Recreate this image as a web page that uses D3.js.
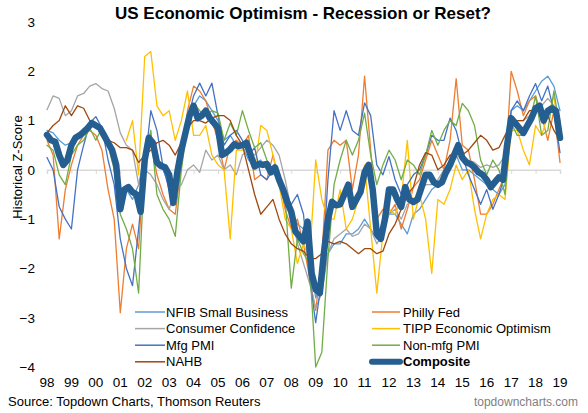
<!DOCTYPE html>
<html>
<head>
<meta charset="utf-8">
<script src="https://cdn.jsdelivr.net/npm/d3@7"></script>
<style>
  body { margin: 0; background: #fff; }
  svg { font-family: Arial, "Liberation Sans", sans-serif; }
</style>
</head>
<body>
<svg width="588" height="413"></svg>
<script>
// x tick labels (years)
var tickYears = d3.range(1998, 2020);
var yTicks = [3, 2, 1, 0, -1, -2, -3, -4];

// thin series, quarterly from Jan 1998
var nfib = [0.8,0.75,0.6,0.5, 0.55,0.65,0.75,0.85, 0.95,0.8,0.45,0.3, -0.5,-0.4,-0.6,-0.3,
  0.3,0.5,0.2,0.0, -0.3,-0.5,0.4,1.0, 1.3,1.5,1.4,1.2, 1.0,0.6,0.7,0.5, 0.5,0.2,0.1,0.2,
  0.0,0.0,-0.2,-0.4, -0.8,-1.1,-1.2,-1.8, -2.6,-2.2,-1.7,-1.5, -1.5,-1.3,-1.3,-1.2,
  -1.0,-1.2,-1.4,-1.1, -0.9,-0.9,-1.1,-1.3, -0.9,-0.8,-0.6,-0.4, -0.3,-0.1,0.1,0.3,
  0.0,0.0,-0.1,-0.2, -0.3,-0.4,-0.5,-0.3, 1.2,1.3,1.2,1.4, 1.6,1.8,1.9,1.7, 1.2];
var phillyFed = [0.6,0.3,-1.4,-0.4, 0.1,0.5,0.7,0.8, 0.7,0.4,-0.4,-1.0, -2.9,-1.6,-1.1,-1.6,
  0.3,0.6,-0.1,-0.5, -0.8,-0.9,0.1,1.2, 1.7,1.6,1.4,1.0, 0.6,0.0,0.5,0.6, 0.5,0.7,-0.2,-0.1,
  -0.2,0.3,-0.2,-0.8, -1.2,-1.0,-1.5,-2.2, -2.85,-1.8,0.4,0.6, 0.5,0.6,-0.4,0.3,
  1.9,0.4,-1.0,-0.8, -0.9,-0.7,-1.2,-0.8, -0.35,-0.2,0.2,0.6, 0.3,0.0,0.6,1.85,
  0.5,0.4,-0.2,-0.9, -0.9,-0.7,-0.4,-0.1, 2.0,1.6,1.1,1.4, 1.5,1.1,0.6,1.2, 0.15];
var consumerConf = [1.22,1.5,1.45,1.1, 1.2,1.5,1.55,1.7, 1.75,1.65,1.6,1.25, 0.75,0.5,0.4,-0.3,
  0.0,-0.1,-0.3,-0.6, -0.8,-0.4,-0.3,0.0, 0.1,-0.05,0.4,0.2, 0.3,0.0,0.1,-0.1, 0.3,0.4,0.3,0.45,
  0.6,0.5,0.3,-0.2, -0.8,-1.5,-1.9,-2.3, -2.8,-2.5,-1.7,-1.4, -1.3,-1.2,-1.35,-1.3,
  -1.1,-1.2,-1.5,-1.3, -0.9,-0.8,-1.0,-0.7, -0.6,-0.45,-0.3,-0.3, -0.2,0.0,0.2,0.25,
  0.3,0.2,0.15,0.05, 0.1,0.05,0.1,0.3, 0.8,1.0,1.0,1.1, 1.2,1.3,1.45,1.3, 1.0];
var tipp = [null,null,null,null, null,null,null,null, null,null,null,null, null,0.6,1.0,-0.1,
  2.3,2.4,1.3,1.1, 1.2,0.6,1.0,1.6, 0.7,0.7,0.9,0.3, 0.1,0.0,-1.4,0.4, 0.4,0.6,0.0,0.9,
  0.8,0.3,-0.3,-1.0, -1.2,-1.9,-1.5,-1.8, 0.2,-0.6,-1.0,-1.0, -0.4,-1.2,-1.0,-0.6,
  0.1,-1.2,-2.5,-1.3, -0.8,-0.9,-0.6,0.6, -1.0,-0.5,-1.0,-2.1, -0.6,-0.7,-0.4,0.1,
  -0.2,0.0,-0.8,-1.4, -0.9,-0.6,-0.5,-0.6, 0.8,0.8,0.4,0.1, 0.9,0.7,1.1,1.5, 0.6];
var mfgPmi = [0.25,0.0,-0.75,-1.0, -1.2,0.0,0.5,0.95, 1.08,0.85,0.2,-0.3, -1.4,-2.0,-2.35,-1.2,
  0.1,1.2,0.8,0.06, -0.4,-0.5,0.3,1.0, 1.5,1.76,1.5,1.76, 1.1,0.5,0.7,0.8, 0.6,0.3,0.45,-0.1,
  -0.2,0.0,-0.3,-0.5, -0.7,-0.5,-0.9,-2.2, -3.1,-2.2,-0.2,1.2, 0.8,1.2,0.8,0.7,
  1.36,1.1,0.1,-0.1, 0.27,-0.2,-0.5,-0.3, -0.1,0.0,0.3,0.7, 0.6,0.6,1.05,0.8,
  0.3,-0.1,-0.4,-0.7, -0.4,-0.8,-0.5,-0.1, 1.2,1.4,1.2,1.5, 1.75,1.4,1.7,1.2, 0.35];
var nonMfgPmi = [0.5,0.4,-0.1,-0.3, 0.3,0.5,0.6,0.85, 0.6,0.85,0.5,0.0, -0.9,-1.2,-1.6,-2.5,
  0.2,0.8,-0.5,-0.8, -1.0,-1.35,0.0,0.9, 1.35,1.2,1.1,1.2, 1.15,0.6,0.95,0.7, 1.2,0.8,0.45,0.55,
  0.2,0.0,-0.2,-0.6, -2.4,-1.4,-1.7,-1.9, -4.0,-3.7,-1.8,-0.3, 0.2,0.6,0.3,0.6,
  1.15,0.3,-0.3,0.1, 0.4,0.2,-0.2,0.2, 0.1,-0.1,0.3,0.8, 0.5,0.8,1.0,0.9,
  1.35,1.2,0.9,0.2, -0.1,0.2,0.0,-0.5, 0.95,0.7,0.7,0.95, 1.5,0.7,0.8,1.6, 0.8];
var nahb = [0.75,0.9,1.0,1.3, 1.1,1.3,1.25,1.0, 0.9,0.75,0.6,0.55, 0.45,0.45,0.4,0.15,
  0.3,0.4,0.55,0.6, 0.5,0.3,0.55,0.85, 1.0,1.0,0.95,1.05, 1.1,1.1,1.0,0.7, 0.5,0.0,-0.5,-0.9,
  -0.75,-0.6,-1.0,-1.3, -1.5,-1.6,-1.65,-1.8, -1.8,-1.7,-1.45,-1.5, -1.45,-1.5,-1.6,-1.7,
  -1.6,-1.6,-1.7,-1.65, -1.3,-1.1,-0.8,-0.5, -0.35,0.1,0.35,0.3, 0.0,0.1,0.3,0.35,
  0.3,0.4,0.55,0.7, 0.6,0.4,0.45,0.7, 0.9,1.0,1.0,1.2, 1.2,1.15,1.1,0.8, 0.6];

// composite, every two months from Jan 1998
var composite = [0.71,0.6,0.57,0.3,0.1,0.2, 0.5,0.65,0.7,0.77,0.85,0.95, 0.9,0.85,0.7,0.55,0.4,0.1,
  -0.8,-0.4,-0.35,-0.45,-0.5,-0.85, 0.2,0.65,0.55,0.15,0.08,0.05, -0.1,-0.67,-0.05,0.4,0.75,1.1,
  1.3,1.05,1.1,1.2,1.05,0.95, 0.85,0.3,0.35,0.42,0.52,0.48, 0.5,0.55,0.3,0.07,0.12,0.1,
  0.12,-0.05,0.05,-0.2,-0.4,-0.65, -0.85,-1.25,-1.35,-1.45,-1.05,-2.1, -2.43,-2.5,-1.7,-1.0,-0.65,-0.72,
  -0.7,-0.5,-0.3,-0.75,-0.6,-0.45, -0.05,0.1,-0.4,-1.3,-1.4,-1.0, -0.4,-0.4,-0.6,-0.75,-0.35,-0.6,
  -0.65,-0.6,-0.35,-0.1,-0.1,-0.25, -0.3,-0.25,-0.05,0.1,0.3,0.5, 0.25,0.15,0.12,0.05,-0.05,-0.1,
  -0.2,-0.35,-0.25,-0.15,-0.2,0.5, 1.05,0.95,0.85,0.75,0.9,1.05, 1.25,1.3,1.0,1.2,1.25,1.2, 0.65];

var names = ["NFIB Small Business", "Philly Fed", "Consumer Confidence", "TIPP Economic Optimism",
             "Mfg PMI", "Non-mfg PMI", "NAHB", "Composite"];
var colors = ["#5B9BD5", "#ED7D31", "#A5A5A5", "#FFC000", "#4472C4", "#70AD47", "#9E480E", "#255E91"];

var svg = d3.select("svg");

var x = d3.scaleLinear().domain([1998, 2019]).range([47, 560]);
var y = d3.scaleLinear().domain([-4, 3]).range([367, 22]);

function toPoints(arr, step) {
  return arr.map(function(v, i) { return {t: 1998 + i * step, v: v}; });
}

var series = [
  toPoints(nfib, 0.25), toPoints(phillyFed, 0.25), toPoints(consumerConf, 0.25), toPoints(tipp, 0.25),
  toPoints(mfgPmi, 0.25), toPoints(nonMfgPmi, 0.25), toPoints(nahb, 0.25), toPoints(composite, 1 / 6)
];

// title
svg.append("text")
    .attr("x", 303).attr("y", 19)
    .attr("text-anchor", "middle")
    .style("font-size", "17px").style("font-weight", "bold")
    .text("US Economic Optimism - Recession or Reset?");

// y axis labels
var yAxis = svg.append("g")
    .attr("transform", "translate(35,0)")
    .call(d3.axisLeft(y).tickValues(yTicks).tickSize(0).tickPadding(0).tickFormat(d3.format("d")));
yAxis.select(".domain").remove();
yAxis.selectAll("text").style("font-size", "13.5px").style("fill", "#000")
    .style("font-family", "Arial, 'Liberation Sans', sans-serif");

svg.append("text")
    .attr("transform", "translate(22,167) rotate(-90)")
    .attr("text-anchor", "middle")
    .style("font-size", "13px")
    .text("Historical Z-Score");

// zero line with year ticks
var xAxis = svg.append("g")
    .attr("transform", "translate(0," + y(0) + ")")
    .call(d3.axisBottom(x).tickValues(tickYears.slice(0, -1).concat([2019])).tickSize(4).tickFormat(""));
xAxis.select(".domain").attr("stroke", "#D9D9D9").attr("stroke-width", 1.5);
xAxis.selectAll(".tick line").attr("stroke", "#D9D9D9");

// year labels along the bottom
svg.append("g").selectAll("text")
    .data(tickYears)
    .enter().append("text")
      .attr("x", function(d) { return x(d); })
      .attr("y", 387)
      .attr("text-anchor", "middle")
      .style("font-size", "13.5px")
      .text(function(d) { return d3.format("02d")(d % 100); });

// lines
var line = d3.line()
    .defined(function(d) { return d.v !== null; })
    .x(function(d) { return x(d.t); })
    .y(function(d) { return y(d.v); });

svg.append("g").selectAll("path")
    .data(series)
    .enter().append("path")
      .attr("d", line)
      .attr("fill", "none")
      .attr("stroke", function(d, i) { return colors[i]; })
      .attr("stroke-width", function(d, i) { return i === 7 ? 6.5 : 1.3; })
      .attr("stroke-linejoin", "round")
      .attr("stroke-linecap", "round");

// legend, two columns
var legend = svg.append("g").selectAll("g")
    .data(names)
    .enter().append("g")
      .attr("transform", function(d, i) {
        var col = i % 2, row = Math.floor(i / 2);
        return "translate(" + (col === 0 ? 135 : 372) + "," + (312 + row * 16.6) + ")";
      });
legend.append("line")
    .attr("x1", 0).attr("x2", function(d, i) { return i % 2 === 0 ? 30 : 28; })
    .attr("stroke", function(d, i) { return colors[i]; })
    .attr("stroke-width", function(d, i) { return i === 7 ? 6 : 1.5; })
    .attr("stroke-linecap", function(d, i) { return i === 7 ? "round" : "butt"; });
legend.append("text")
    .attr("x", 31)
    .attr("dy", "0.35em")
    .style("font-size", "13px")
    .style("font-weight", function(d, i) { return i === 7 ? "bold" : "normal"; })
    .text(function(d) { return d; });

// footer
svg.append("text")
    .attr("x", 8).attr("y", 406)
    .style("font-size", "13px")
    .text("Source: Topdown Charts, Thomson Reuters");
svg.append("text")
    .attr("x", 578).attr("y", 406)
    .attr("text-anchor", "end")
    .style("font-size", "12px").style("fill", "#7F7F7F")
    .text("topdowncharts.com");
</script>
</body>
</html>
